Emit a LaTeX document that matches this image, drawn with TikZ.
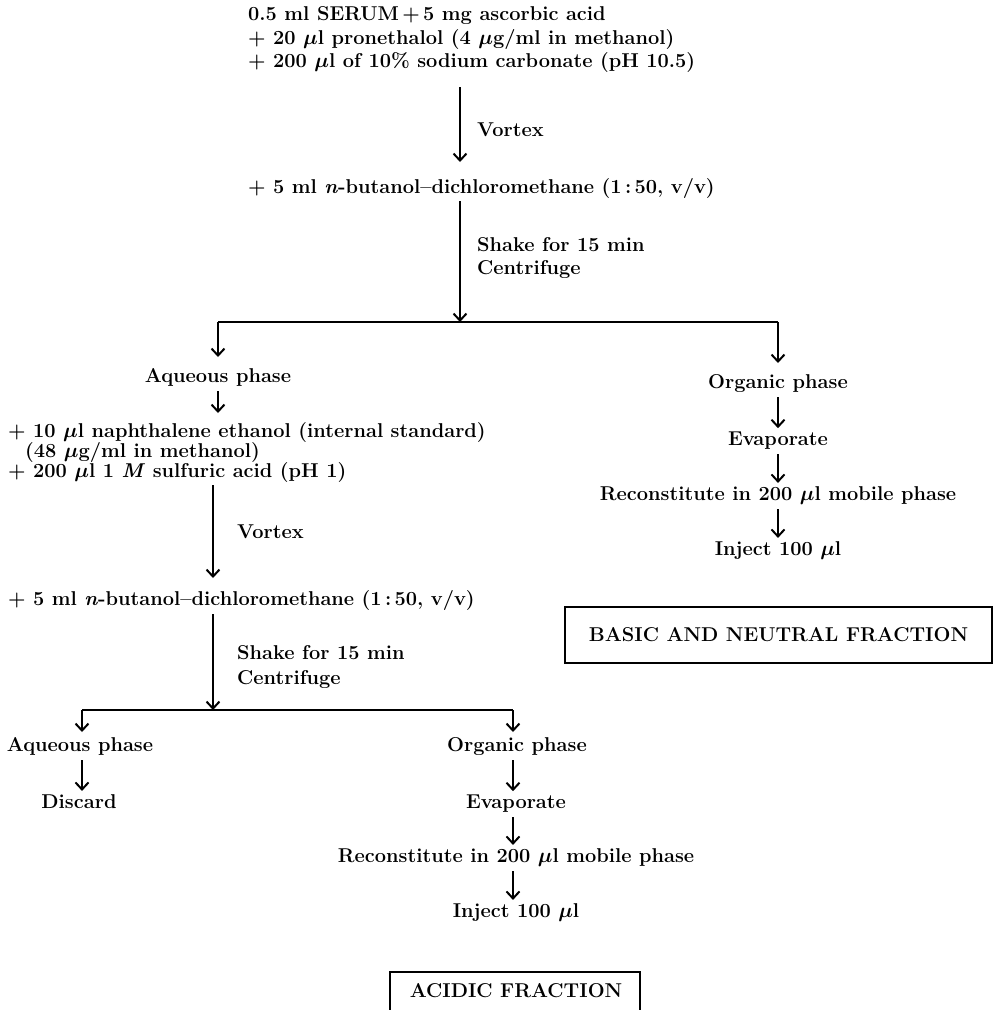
\documentclass[tikz,border=0pt]{standalone}
\usepackage{amsmath}
\usetikzlibrary{arrows.meta}
\newcommand\bmu{\(\boldsymbol{\mu}\)}
\begin{document}
\begin{tikzpicture}[x=1pt,y=1pt,
  txt/.style={inner sep=0pt, font=\fontsize{20}{20}\selectfont\bfseries},
  arr/.style={line width=2pt,-{Straight Barb[length=7pt,width=13pt,line width=2pt]}},
  step2/.style={arr, shorten <=5pt, shorten >=3pt},
  ln/.style={line width=2pt},
  fracbox/.style={draw, line width=2pt, inner sep=0pt, font=\fontsize{20}{20}\selectfont\bfseries}]
\useasboundingbox (0,0) rectangle (995,-1010);
% top block
\node[txt,anchor=base west] (t1) at (248,-20) {0.5 ml SERUM\,+\,5 mg ascorbic acid};
\node[txt,anchor=base west] (t2) at (248,-44) {+ 20 \bmu l pronethalol (4 \bmu g/ml in methanol)};
\node[txt,anchor=base west] (t3) at (248,-67) {+ 200 \bmu l of 10\% sodium carbonate (pH 10.5)};
\coordinate (a1s) at (460,-87);
\coordinate (a1e) at (460,-162);
\draw[arr] (a1s) -- (a1e);
\node[txt,anchor=west] (v1) at (477,-130) {Vortex};
\node[txt,anchor=base west] (t4) at (248,-193) {+ 5 ml \textit{n}-butanol--dichloromethane (1\,:\,50, v/v)};
\coordinate (a2s) at (460,-201);
\coordinate (a2e) at (460,-322);
\draw[arr] (a2s) -- (a2e);
\node[txt,anchor=west] (s1) at (477,-245) {Shake for 15 min};
\node[txt,anchor=west] (c1) at (477,-270) {Centrifuge};
% first split
\coordinate (hL) at (218,-322);
\coordinate (hR) at (778,-322);
\draw[ln] (hL) -- (hR);
\node[txt,anchor=base] (aq1) at (218,-382) {Aqueous phase};
\node[txt,anchor=base] (or1) at (778,-388) {Organic phase};
\draw[arr] (hL) -- (218,-357);
\draw[arr] (hR) -- (778,-363);
% right column
\node[txt,anchor=base] (ev1) at (778,-445) {Evaporate};
\node[txt,anchor=base] (re1) at (778,-500) {Reconstitute in 200 \bmu l mobile phase};
\node[txt,anchor=base] (in1) at (778,-555) {Inject 100 \bmu l};
\draw[step2] (or1.south) -- (ev1.north);
\draw[step2] (ev1.south) -- (re1.north);
\draw[step2] (re1.south) -- (in1.north);
\node[fracbox, minimum width=427pt, minimum height=56pt] (bn) at (778.5,-635) {BASIC AND NEUTRAL FRACTION};
% left column
\node[txt,anchor=base west] (l1) at (8,-437) {+ 10 \bmu l naphthalene ethanol (internal standard)};
\node[txt,anchor=base west] (l2) at (25,-457) {(48 \bmu g/ml in methanol)};
\node[txt,anchor=base west] (l3) at (8,-477) {+ 200 \bmu l 1 \textit{M} sulfuric acid (pH 1)};
\draw[step2] (aq1.south) -- (218,-416);
\coordinate (a3s) at (213,-485);
\coordinate (a3e) at (213,-578);
\draw[arr] (a3s) -- (a3e);
\node[txt,anchor=west] (v2) at (237,-532) {Vortex};
\node[txt,anchor=base west] (l4) at (8,-605) {+ 5 ml \textit{n}-butanol--dichloromethane (1\,:\,50, v/v)};
\coordinate (a4s) at (213,-614);
\coordinate (a4e) at (213,-710);
\draw[arr] (a4s) -- (a4e);
\node[txt,anchor=west] (s2) at (237,-653) {Shake for 15 min};
\node[txt,anchor=west] (c2) at (237,-680) {Centrifuge};
% second split
\coordinate (gL) at (82,-710);
\coordinate (gR) at (513,-710);
\draw[ln] (gL) -- (gR);
\node[txt,anchor=base] (aq2) at (80,-751) {Aqueous phase};
\node[txt,anchor=base] (or2) at (517,-751) {Organic phase};
\draw[arr] (gL) -- (82,-732);
\draw[arr] (gR) -- (513,-732);
\node[txt,anchor=base] (di) at (79,-808) {Discard};
\draw[step2] (aq2.south -| gL) -- (di.north -| gL);
\node[txt,anchor=base] (ev2) at (516,-808) {Evaporate};
\node[txt,anchor=base] (re2) at (516,-862) {Reconstitute in 200 \bmu l mobile phase};
\node[txt,anchor=base] (in2) at (516,-917) {Inject 100 \bmu l};
\draw[step2] (or2.south -| gR) -- (ev2.north -| gR);
\draw[step2] (ev2.south -| gR) -- (re2.north -| gR);
\draw[step2] (re2.south -| gR) -- (in2.north -| gR);
% acidic box (cut at bottom)
\node[txt] (ac) at (516,-991) {ACIDIC FRACTION};
\coordinate (acL) at (390,-1016);
\coordinate (acR) at (640,-1016);
\draw[ln] (acL) |- (640,-972) -- (acR);
\end{tikzpicture}
\end{document}
